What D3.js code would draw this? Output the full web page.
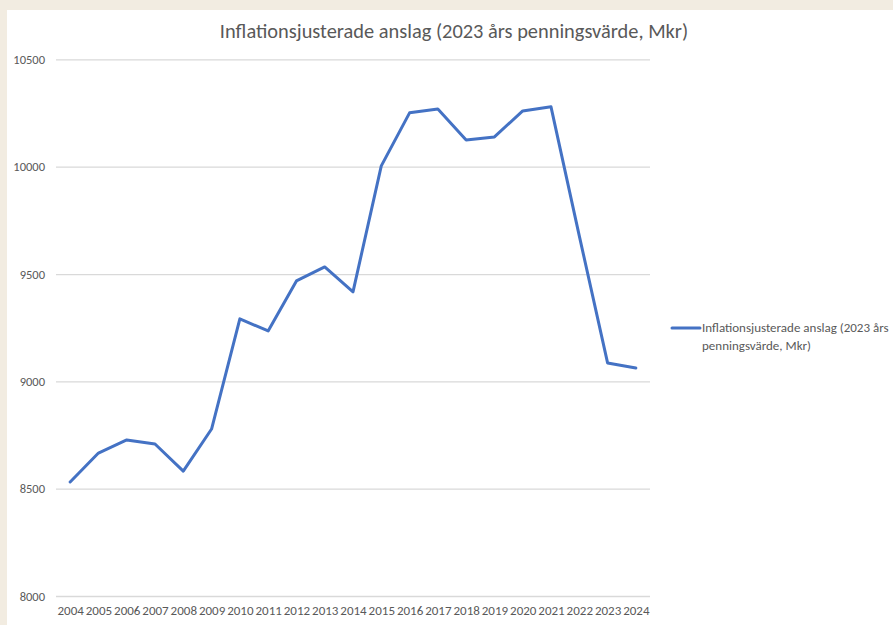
<!DOCTYPE html>
<html><head><meta charset="utf-8">
<script src="https://cdn.jsdelivr.net/npm/d3@7"></script>
<style>
html,body{margin:0;padding:0;background:#f2ece1;}
svg{display:block;}
</style></head>
<body>
<script>
const years = ["2004","2005","2006","2007","2008","2009","2010","2011","2012","2013","2014","2015","2016","2017","2018","2019","2020","2021","2022","2023","2024"];
const values = [8531,8666,8727,8708,8582,8778,9291,9235,9468,9533,9417,10004,10251,10269,10125,10139,10260,10279,9678,9086,9062];
const yTicks = [8000,8500,9000,9500,10000,10500];
const seriesName = "Inflationsjusterade anslag (2023 års penningsvärde, Mkr)";
const legendLines = ["Inflationsjusterade anslag (2023 års","penningsvärde, Mkr)"];

const W = 893, H = 625;
const svg = d3.select("body").append("svg").attr("width", W).attr("height", H);
svg.append("rect").attr("x",0).attr("y",0).attr("width",W).attr("height",H).attr("fill","#f2ece1");
svg.append("rect").attr("x",7).attr("y",10).attr("width",W-7).attr("height",H-10).attr("fill","#ffffff");

const font = "Carlito, 'Liberation Sans', Arial, sans-serif";
const textColor = "#595959";
const m = {left:56, right:650, top:59.4, bottom:596};

const x = d3.scalePoint().domain(years).range([m.left, m.right]).padding(0.5);
const y = d3.scaleLinear().domain([8000,10500]).range([m.bottom, m.top]);

// title
svg.append("text").attr("x",454).attr("y",38).attr("text-anchor","middle")
  .attr("font-family",font).attr("font-size",20.4).attr("fill",textColor)
  .text(seriesName);

// gridlines + y axis
const yAxis = d3.axisLeft(y).tickValues(yTicks).tickSize(-(m.right-m.left)).tickPadding(11).tickFormat(d3.format("d"));
const gy = svg.append("g").attr("transform",`translate(${m.left},0)`).call(yAxis);
gy.select(".domain").remove();
gy.selectAll(".tick line").attr("stroke","#d9d9d9").attr("stroke-width",1.3);
gy.selectAll(".tick text").attr("font-family",font).attr("font-size",12.5).attr("fill",textColor);

// x axis
const xAxis = d3.axisBottom(x).tickSize(0).tickPadding(10);
const gx = svg.append("g").attr("transform",`translate(0,${m.bottom})`).call(xAxis);
gx.select(".domain").remove();
gx.selectAll(".tick text").attr("font-family",font).attr("font-size",13).attr("fill",textColor);

// line
const line = d3.line().x((d,i)=>x(years[i])).y(d=>y(d));
svg.append("path").datum(values).attr("d",line).attr("fill","none")
  .attr("stroke","#4472c4").attr("stroke-width",3).attr("stroke-linejoin","round").attr("stroke-linecap","round");

// legend
svg.append("line").attr("x1",672).attr("x2",700).attr("y1",328).attr("y2",328)
  .attr("stroke","#4472c4").attr("stroke-width",3).attr("stroke-linecap","round");
const lt = svg.append("text").attr("font-family",font).attr("font-size",13).attr("fill",textColor);
legendLines.forEach((t,i)=>{
  lt.append("tspan").attr("x",702).attr("y",332+i*18).text(t);
});
</script>
</body></html>
